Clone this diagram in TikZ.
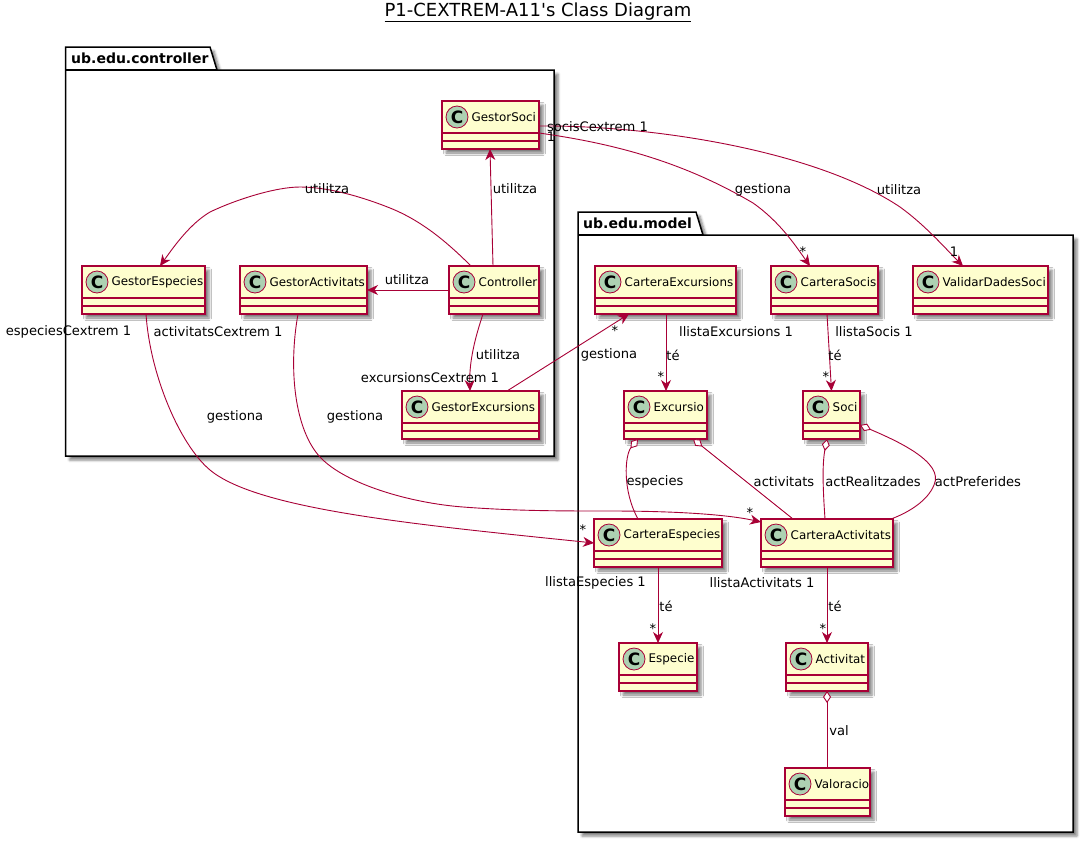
\documentclass[tikz,border=0pt]{standalone}
\usepackage{fontspec}
\setmainfont{DejaVu Sans}
\usetikzlibrary{arrows.meta,shadows.blur}

\definecolor{umlred}{HTML}{A80036}
\definecolor{umlfill}{HTML}{FEFECE}
\definecolor{umlspot}{HTML}{ADD1B2}

\tikzset{
  classbox/.style={draw=umlred,fill=umlfill,line width=1.1pt,inner sep=0pt,outer sep=0pt,
    anchor=north west,minimum height=48pt,
    blur shadow={shadow xshift=4pt,shadow yshift=-4pt,shadow blur radius=2.5pt,shadow opacity=50}},
  classsep/.style={draw=umlred,line width=1.1pt},
  classspot/.style={circle,draw=umlred,fill=umlspot,line width=0.8pt,minimum size=22pt,inner sep=0pt,
    font=\fontsize{17}{17}\selectfont\bfseries},
  classname/.style={anchor=west,inner sep=0pt,font=\fontsize{11.9}{14}\selectfont},
  pkgbox/.style={draw=black,fill=white,line width=1.5pt,line join=miter,
    blur shadow={shadow xshift=4pt,shadow yshift=-4pt,shadow blur radius=2.5pt,shadow opacity=50}},
  pkgname/.style={anchor=west,inner sep=0pt,font=\fontsize{14}{16}\selectfont\bfseries},
  lbl/.style={inner sep=0pt,yshift=-1pt,font=\fontsize{13.1}{15}\selectfont},
  assoc/.style={draw=umlred,line width=0.9pt},
  arrowto/.style={assoc,-{Stealth[inset=3.5pt,length=11pt,width=10pt]}},
  aggr/.style={assoc,{Diamond[open,fill=white,length=12pt,width=8pt]}-}
}

% name, left, top, width
\newcommand{\umlclass}[4]{
  \node[classbox,minimum width=#4pt] (#1) at (#2,#3) {};
  \draw[classsep] ([yshift=-32pt]#1.north west) -- ([yshift=-32pt]#1.north east);
  \draw[classsep] ([yshift=-40pt]#1.north west) -- ([yshift=-40pt]#1.north east);
  \node[classspot] (#1spot) at ([xshift=15pt,yshift=-16pt]#1.north west) {C};
  \node[classname] (#1name) at ([xshift=29.5pt,yshift=-16pt]#1.north west) {#1};
}

\begin{document}
\begin{tikzpicture}[x=1pt,y=-1pt]
  % Bounding box
  \useasboundingbox (0,0) rectangle (1089,841);

  \node[font=\fontsize{18}{20}\selectfont] (title) at (538,12.5) {\underline{P1-CEXTREM-A11\textquotesingle s Class Diagram}};

  % packages
  \draw[pkgbox] (65.5,70) -- (65.5,47) -- (210,47) -- (217,70) -- (554,70) -- (554,456) -- (65.5,456) -- cycle;
  \draw[line width=1.5pt] (65.5,70) -- (217,70);
  \node[pkgname] (pkgcontroller) at (71,58) {ub.edu.controller};
  \draw[pkgbox] (578,235) -- (578,212) -- (696,212) -- (703,235) -- (1073,235) -- (1073,832) -- (578,832) -- cycle;
  \draw[line width=1.5pt] (578,235) -- (703,235);
  \node[pkgname] (pkgmodel) at (583,223) {ub.edu.model};

  % classes
  \umlclass{GestorSoci}{442}{101}{97}
  \umlclass{GestorEspecies}{82}{266}{123}
  \umlclass{GestorActivitats}{240}{266}{127}
  \umlclass{Controller}{449}{266}{90}
  \umlclass{GestorExcursions}{402}{391}{137}
  \umlclass{CarteraExcursions}{595}{266}{141}
  \umlclass{CarteraSocis}{771}{266}{107}
  \umlclass{ValidarDadesSoci}{913}{266}{135}
  \umlclass{Excursio}{624}{391}{83}
  \umlclass{Soci}{803}{391}{57}
  \umlclass{CarteraEspecies}{594}{519}{128}
  \umlclass{CarteraActivitats}{761}{519}{132}
  \umlclass{Especie}{619}{643}{78}
  \umlclass{Activitat}{786}{643}{82}
  \umlclass{Valoracio}{785}{768}{85}

  % connectors
  \draw[arrowto] ([xshift=-1pt]Controller.north) -- ([xshift=-0.5pt]GestorSoci.south);
  \draw[arrowto] ([xshift=-23pt]Controller.north) .. controls (445,240) and (420,220) .. (390,208)
    .. controls (365,198) and (330,187) .. (300,187) .. controls (275,187) and (235,200) .. (210,212)
    .. controls (190,224) and (175,245) .. ([xshift=16.5pt]GestorEspecies.north);
  \draw[arrowto] (Controller.west) -- (GestorActivitats.east);
  \draw[arrowto] ([xshift=-11pt]Controller.south) .. controls (476,335) and (469,360) .. ([xshift=-0.5pt]GestorExcursions.north);
  \draw[arrowto] ([yshift=-8pt]GestorSoci.east) .. controls (610,143) and (680,160) .. (753,203)
    .. controls (780,222) and (795,245) .. ([xshift=-14.5pt]CarteraSocis.north);
  \draw[arrowto] ([yshift=-1pt]GestorSoci.east) .. controls (650,125) and (815,150) .. (900,207)
    .. controls (925,225) and (945,248) .. ([xshift=-17.5pt]ValidarDadesSoci.north);
  \draw[arrowto] ([xshift=36.5pt]GestorExcursions.north) -- ([xshift=-36.5pt]CarteraExcursions.south);
  \draw[arrowto] ([xshift=2.5pt]GestorEspecies.south) .. controls (150,375) and (180,445) .. (210,470)
    .. controls (258,510) and (420,525) .. (CarteraEspecies.west);
  \draw[arrowto] ([xshift=-5.5pt]GestorActivitats.south) .. controls (288,370) and (295,430) .. (320,457)
    .. controls (345,484) and (410,503) .. (463,507) .. controls (516,511) and (560,511) .. (610,511)
    .. controls (670,511) and (725,514) .. ([yshift=21pt]CarteraActivitats.west);
  \draw[arrowto] ([xshift=0.5pt]CarteraExcursions.south) -- ([xshift=0.5pt]Excursio.north);
  \draw[arrowto] ([xshift=2.5pt]CarteraSocis.south) -- (Soci.north);
  \draw[aggr] ([xshift=-27.5pt]Excursio.south) .. controls (625,455) and (622,490) .. ([xshift=-20pt]CarteraEspecies.north);
  \draw[aggr] ([xshift=27.5pt]Excursio.south) -- ([xshift=-34pt]CarteraActivitats.north);
  \draw[aggr] ([xshift=-4.5pt]Soci.south) .. controls (822,465) and (823,490) .. ([xshift=-2pt]CarteraActivitats.north);
  \draw[aggr] ([yshift=-10pt]Soci.east) .. controls (895,440) and (945,462) .. (934,485) .. controls (928,500) and (910,512) .. ([xshift=64pt]CarteraActivitats.north);
  \draw[arrowto] (CarteraEspecies.south) -- (Especie.north);
  \draw[arrowto] (CarteraActivitats.south) -- (Activitat.north);
  \draw[aggr] (Activitat.south) -- ([xshift=-0.5pt]Valoracio.north);

  % labels
  \node[lbl] (utilsoci) at (515,188) {utilitza};
  \node[lbl] (utilesp) at (327,188) {utilitza};
  \node[lbl] (utilact) at (407,279) {utilitza};
  \node[lbl] (utilexc) at (498,354) {utilitza};
  \node[lbl] (gessoci) at (763,189) {gestiona};
  \node[lbl] (utilval) at (899,189) {utilitza};
  \node[lbl] (socisc) at (597.5,126) {socisCextrem 1};
  \node[lbl] (gessocione) at (551,136) {1};
  \node[lbl] (gessocistar) at (803,251) {*};
  \node[lbl] (utilvalone) at (954,251) {1};
  \node[lbl] (excursc) at (430,377) {excursionsCextrem 1};
  \node[lbl] (gesexcstar) at (615,330) {*};
  \node[lbl] (gesexc) at (609,354) {gestiona};
  \node[lbl] (especc) at (68.5,331) {especiesCextrem 1};
  \node[lbl] (activc) at (218,331) {activitatsCextrem 1};
  \node[lbl] (gesesp) at (235,416) {gestiona};
  \node[lbl] (gesact) at (355,416) {gestiona};
  \node[lbl] (gesespstar) at (583,529) {*};
  \node[lbl] (gesactstar) at (750,512) {*};
  \node[lbl] (llexc) at (736,331) {llistaExcursions 1};
  \node[lbl] (tehexc) at (673,354) {té};
  \node[lbl] (excstar) at (661,376) {*};
  \node[lbl] (llsoc) at (874,331) {llistaSocis 1};
  \node[lbl] (tesoc) at (835,354) {té};
  \node[lbl] (socstar) at (826,376) {*};
  \node[lbl] (especies) at (655,481) {especies};
  \node[lbl] (activitats) at (784,481) {activitats};
  \node[lbl] (actreal) at (873,481) {actRealitzades};
  \node[lbl] (actpref) at (978,481) {actPreferides};
  \node[lbl] (llesp) at (595.5,582) {llistaEspecies 1};
  \node[lbl] (llact) at (762,582) {llistaActivitats 1};
  \node[lbl] (teesp) at (666,605) {té};
  \node[lbl] (teact) at (835,605) {té};
  \node[lbl] (espstar) at (653,628) {*};
  \node[lbl] (actstar) at (823,628) {*};
  \node[lbl] (val) at (839,730) {val};
\end{tikzpicture}
\end{document}
